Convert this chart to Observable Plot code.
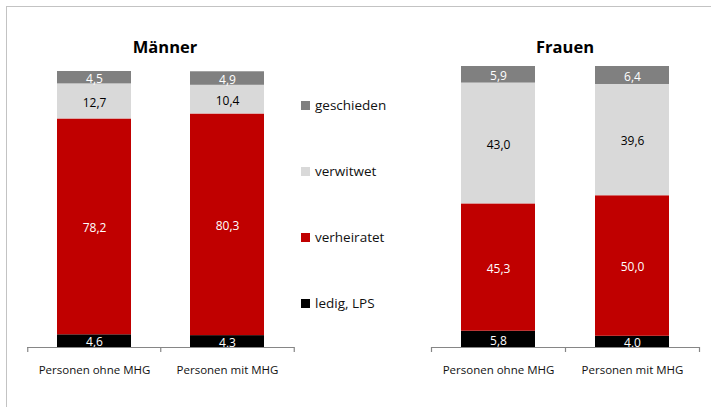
<!DOCTYPE html>
<html><head><meta charset="utf-8">
<script src="https://cdn.jsdelivr.net/npm/d3@7"></script>
<script src="https://cdn.jsdelivr.net/npm/@observablehq/plot@0.6"></script>
<style>
html,body{margin:0;padding:0;background:#fff;width:711px;height:407px;overflow:hidden;font-family:"Open Sans",sans-serif;}
#frame{position:absolute;left:6px;top:6px;width:740px;height:440px;border:1px solid #c3c3c3;box-sizing:border-box;}
.panel{position:absolute;top:0;}
.title{position:absolute;font-weight:bold;font-size:16.5px;transform:translate(-50%,-50%);white-space:nowrap;color:#000;}
.leg{position:absolute;display:flex;align-items:center;font-size:13.5px;color:#111;white-space:nowrap;transform:translateY(-50%);}
.sw{width:9px;height:9px;margin-right:5px;flex:none;}
</style></head><body>
<div id="frame"></div>
<div id="root"></div>
<script>
// ---- data ----
const categories = ["Personen ohne MHG", "Personen mit MHG"];
const statuses = ["ledig, LPS", "verheiratet", "verwitwet", "geschieden"];
const maennerOhne = [4.6, 78.2, 12.7, 4.5];
const maennerMit  = [4.3, 80.3, 10.4, 4.9];
const frauenOhne  = [5.8, 45.3, 43.0, 5.9];
const frauenMit   = [4.0, 50.0, 39.6, 6.4];
const panelTitles = ["Männer", "Frauen"];

// ---- styles ----
const colors = ["#000000", "#c00000", "#d9d9d9", "#808080"];
const labelColor = {"ledig, LPS": "#ffffff", "verheiratet": "#ffffff", "verwitwet": "#000000", "geschieden": "#ffffff"};
const fmt = v => d3.format(".1f")(v).replace(".", ",");

const root = document.getElementById("root");

function makePanel(seriesRows, title, o) {
  const data = [];
  categories.forEach((c, i) => statuses.forEach((s, j) => data.push({cat: c, status: s, value: seriesRows[i][j]})));
  const H = 407;
  const step = (o.width - o.marginLeft - o.marginRight) / categories.length;
  const chart = Plot.plot({
    width: o.width, height: H,
    marginLeft: o.marginLeft, marginRight: o.marginRight,
    marginTop: o.marginTop, marginBottom: H - o.axisY,
    style: {fontFamily: "Open Sans", background: "transparent", overflow: "visible"},
    x: {domain: categories, paddingInner: 0.445, paddingOuter: 0.2225, axis: null},
    y: {domain: [0, 100], axis: null},
    color: {domain: statuses, range: colors},
    marks: [
      Plot.barY(data, {x: "cat", y: "value", fill: "status", order: statuses}),
      Plot.text(data, Plot.stackY({
        x: "cat", y: "value", z: "status", order: statuses,
        text: d => fmt(d.value), fill: d => labelColor[d.status],
        fontSize: 12, dy: 1.5, lineAnchor: "middle", clip: "frame"
      })),
      Plot.ruleY([0], {stroke: "#868686", strokeWidth: 1.2}),
      Plot.ruleX(categories, {x: d => d, y1: 0, y2: 0, insetBottom: -5, dx: -step / 2, stroke: "#868686", strokeWidth: 1.2}),
      Plot.ruleX(categories.slice(-1), {x: d => d, y1: 0, y2: 0, insetBottom: -5, dx: step / 2, stroke: "#868686", strokeWidth: 1.2}),
      Plot.axisX({tickSize: 0, tickPadding: 18, fontSize: 11.5, fill: "#111", label: null})
    ]
  });
  const wrap = document.createElement("div");
  wrap.className = "panel";
  wrap.style.left = o.left + "px";
  wrap.appendChild(chart);
  root.appendChild(wrap);
  const t = document.createElement("div");
  t.className = "title";
  t.textContent = title;
  t.style.left = (o.left + o.titleX) + "px";
  t.style.top = "46px";
  root.appendChild(t);
}

makePanel([maennerOhne, maennerMit], panelTitles[0],
  {left: 0, width: 300, marginLeft: 27, marginRight: 6, marginTop: 71, axisY: 347, titleX: 165});
makePanel([frauenOhne, frauenMit], panelTitles[1],
  {left: 400, width: 305, marginLeft: 31, marginRight: 6, marginTop: 66, axisY: 347, titleX: 165});

// ---- legend ----
statuses.slice().reverse().forEach((s, i) => {
  const row = document.createElement("div");
  row.className = "leg";
  row.style.left = "301px";
  row.style.top = (105 + i * 66) + "px";
  const sw = document.createElement("div");
  sw.className = "sw";
  sw.style.background = colors[statuses.indexOf(s)];
  const lab = document.createElement("span");
  lab.textContent = s;
  row.appendChild(sw);
  row.appendChild(lab);
  root.appendChild(row);
});
</script>
</body></html>
